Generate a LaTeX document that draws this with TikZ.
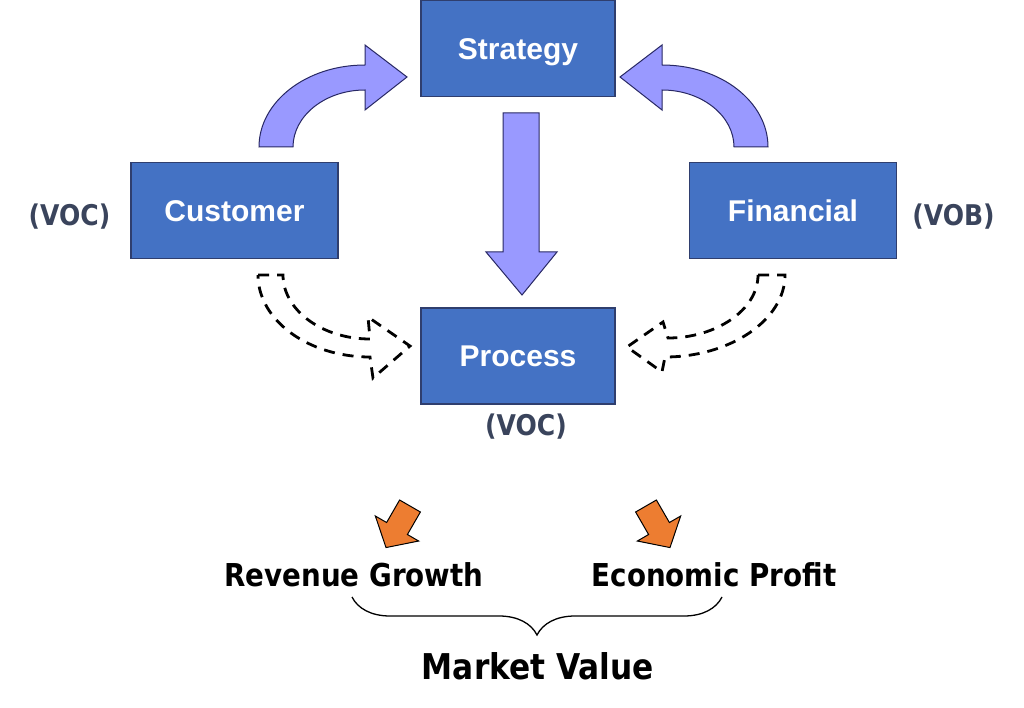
\documentclass[tikz,border=0pt]{standalone}
\usepackage{fontspec}
\setmainfont{Liberation Sans}
\newfontfamily\vfont{DejaVu Sans}[FakeStretch=0.88]
\usetikzlibrary{positioning,decorations.pathreplacing}
\definecolor{boxblue}{RGB}{68,114,196}
\definecolor{boxline}{RGB}{47,62,110}
\definecolor{arrowlilac}{RGB}{153,153,255}
\definecolor{arrowline}{RGB}{40,40,100}
\definecolor{vocgray}{RGB}{58,68,92}
\definecolor{pumpkin}{RGB}{237,125,49}

\begin{document}
\begin{tikzpicture}[x=1pt,y=-1pt,
    block/.style={draw=boxline,line width=1.2pt,fill=boxblue,text=white,
      font=\fontsize{30}{36}\selectfont\bfseries,text height=21.5pt,text depth=0pt,
      minimum width=194pt,minimum height=96pt,inner sep=0pt},
    voice/.style={text=vocgray,font=\vfont\fontsize{28.5}{33}\selectfont\bfseries,inner sep=0pt},
    result/.style={font=\vfont\fontsize{31.5}{36}\selectfont\bfseries,inner sep=0pt},
    fatarrow/.style={draw=arrowline,line width=1pt,fill=arrowlilac,line join=miter},
    ghostarrow/.style={draw=black,line width=2.8pt,dash pattern=on 11pt off 8pt},
    pics/pointer/.style={code={
      \draw[line width=1pt,fill=pumpkin] (0,-12)--(26,-12)--(26,-25)--(48,0)--(26,25)--(26,12)--(0,12)--cycle;}}]
    \fill[white] (0,0) rectangle (1024,708);
    \useasboundingbox (0,0) rectangle (1024,708);

    \node[block] (strategy) at (518,48.5) {Strategy};
    \node[block,minimum width=207pt] (customer) at (234.5,210.5) {Customer};
    \node[block,minimum width=207pt] (financial) at (793,210.5) {Financial};
    \node[block] (process) at (518,356) {Process};

    \node[voice,left=20pt of customer,yshift=-6pt] (voc) {(VOC)};
    \node[voice,right=15pt of financial,yshift=-6pt] (vob) {(VOB)};
    \node[voice,below=9pt of process,xshift=8pt] (vocp) {(VOC)};

    % customer -> strategy, financial -> strategy, strategy -> process
    \draw[fatarrow] (259,147) .. controls (259,102) and (306,65) .. (365,65) -- (365,45) -- (407,77)
      -- (365,110) -- (365,90) .. controls (325,90) and (293,116) .. (293,147) -- cycle;
    \draw[fatarrow] (768,147) .. controls (768,102) and (721,65) .. (662,65) -- (662,45) -- (620,77)
      -- (662,110) -- (662,90) .. controls (702,90) and (734,116) .. (734,147) -- cycle;
    \draw[fatarrow] (503,113) -- (539,113) -- (539,252) -- (557,252) -- (522,295) -- (486,252) -- (503,252) -- cycle;

    % feedback into process
    \draw[ghostarrow] (258,275) -- (283,275) .. controls (283,310) and (322,339) .. (370,339) -- (368,317)
      -- (410,346) -- (373,378) -- (370,357) .. controls (308,357) and (258,320) .. cycle;
    \draw[ghostarrow] (758,275) -- (785,275) .. controls (785,320) and (730,357) .. (665,357) -- (662,372)
      -- (627,347) -- (663,322) -- (668,338) .. controls (716,338) and (758,310) .. cycle;

    \pic[rotate=-120] at (410,506) {pointer};
    \pic[rotate=-60] at (646,506) {pointer};

    \node[result] (growth) at (354,575) {Revenue Growth};
    \node[result] (profit) at (714,575) {Economic Profit};
    \node[result,font=\vfont\fontsize{35.5}{40}\selectfont\bfseries] (value) at (538,666) {Market Value};
    \draw[line width=1.3pt,decorate,decoration={brace,amplitude=38pt}] (722,597) -- (352,597);
\end{tikzpicture}
\end{document}
